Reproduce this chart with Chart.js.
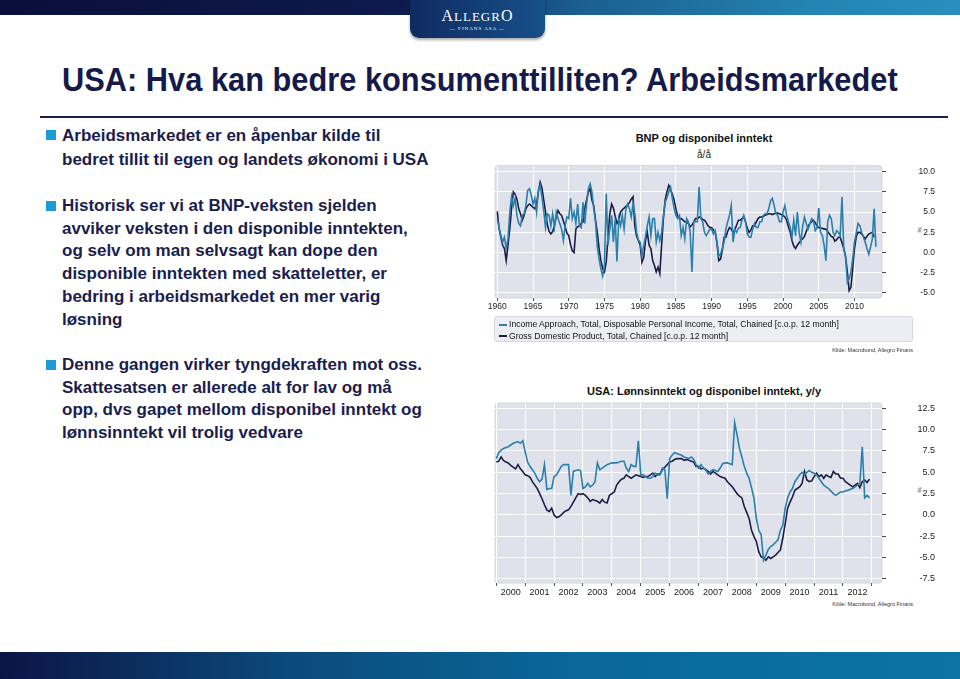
<!DOCTYPE html>
<html lang="no">
<head>
    <meta charset="UTF-8">
    <title>USA: Hva kan bedre konsumenttilliten? Arbeidsmarkedet</title>
    <script src="https://cdn.jsdelivr.net/npm/chart.js"></script>
    <style>
        html, body { margin: 0; padding: 0; }
        body { width: 960px; height: 679px; position: relative; overflow: hidden; background: #fff;
               font-family: Arial, "Liberation Sans", sans-serif; color: #1b1e4c; }
        .topbar { position: absolute; left: 0; top: 0; width: 960px; height: 15px;
                  background: linear-gradient(to right, #0a0f3a 0%, #0e1a4c 42%, #1a5e8f 60%, #2484b3 85%, #2a8fbd 100%); }
        .logo { position: absolute; left: 410px; top: 0; width: 135px; height: 38px; border-radius: 0 0 9px 9px;
                background: linear-gradient(to right, #0f2b60, #17508a); box-shadow: 0 2px 3px rgba(0,0,0,0.35);
                color: #fff; text-align: center; font-family: "Liberation Serif", "DejaVu Serif", serif; }
        .logo .brand { font-size: 16px; letter-spacing: 1px; padding-top: 7px; line-height: 17px; }
        .logo .brand span { font-size: 13px; }
        .logo .sub { font-size: 5px; letter-spacing: 1px; line-height: 8px; }
        .title { position: absolute; left: 62px; top: 60px; font-family: "Liberation Sans Narrow", "Arial Narrow", Arial, sans-serif;
                 font-weight: bold; font-size: 34px; color: #151a4a; white-space: nowrap; transform-origin: 0 0; }
        .rule { position: absolute; left: 40px; top: 116px; width: 908px; height: 2px; background: #1b1f4e; }
        .bullet { position: absolute; left: 62px; width: 420px; font-weight: bold; font-size: 17px;
                  line-height: 22.7px; white-space: nowrap; }
        .bullet::before { content: ""; position: absolute; left: -16px; top: 6px; width: 10px; height: 10px; background: #1e9ad8; }
        .ctitle { position: absolute; left: 490px; width: 428px; text-align: center; font-size: 11px; font-weight: bold; color: #111; }
        .csub { position: absolute; left: 490px; width: 428px; text-align: center; font-size: 10px; color: #222; }
        .legend { position: absolute; left: 494px; top: 316px; width: 419px; height: 26px; box-sizing: border-box;
                  background: #eceef3; border: 1px solid #d6d9e1; border-radius: 3px; padding: 2px 0 0 4px; font-size: 8.6px; color: #111; }
        .legend div { line-height: 11.5px; white-space: nowrap; }
        .legend i { display: inline-block; width: 8px; height: 1.6px; margin-right: 2px; vertical-align: middle; }
        .source { position: absolute; right: 47px; font-size: 5.5px; color: #333; }
        .unit { position: absolute; left: 917px; font-size: 6px; color: #333; transform: rotate(90deg); }
        .bottombar { position: absolute; left: 0; top: 652px; width: 960px; height: 27px;
                     background: linear-gradient(to right, #0b1545 0%, #0b4a7b 30%, #0a679a 60%, #0b74a5 100%); }
        canvas { position: absolute; }
    </style>
</head>
<body>
<div class="topbar"></div>
<div class="logo"><div class="brand">A<span>LLEGR</span>O</div><div class="sub">— FINANS ASA —</div></div>

<div class="title" id="title">USA: Hva kan bedre konsumenttilliten? Arbeidsmarkedet</div>
<div class="rule"></div>

<div class="bullet" style="top:124px; line-height:24px;">Arbeidsmarkedet er en åpenbar kilde til<br>bedret tillit til egen og landets økonomi i USA</div>
<div class="bullet" style="top:195px;">Historisk ser vi at BNP-veksten sjelden<br>avviker veksten i den disponible inntekten,<br>og selv om man selvsagt kan dope den<br>disponible inntekten med skatteletter, er<br>bedring i arbeidsmarkedet en mer varig<br>løsning</div>
<div class="bullet" style="top:354px;">Denne gangen virker tyngdekraften mot oss.<br>Skattesatsen er allerede alt for lav og må<br>opp, dvs gapet mellom disponibel inntekt og<br>lønnsinntekt vil trolig vedvare</div>

<div class="ctitle" style="top:132px;">BNP og disponibel inntekt</div>
<div class="csub" style="top:149px;">å/å</div>
<canvas id="bnpChart" width="455" height="159" style="left:480px; top:158px;"></canvas>
<div class="unit" style="top:227px;">%</div>
<div class="legend" id="bnpLegend"></div>
<div class="source" style="top:347px;">Kilde: Macrobond, Allegro Finans</div>

<div class="ctitle" style="top:385px;">USA: Lønnsinntekt og disponibel inntekt, y/y</div>
<canvas id="lonnChart" width="455" height="206" style="left:480px; top:395px;"></canvas>
<div class="unit" style="top:487px;">%</div>
<div class="source" style="top:601px;">Kilde: Macrobond, Allegro Finans</div>

<div class="bottombar"></div>

<script>
    // chart 1: quarterly growth, %, from 1960 Q1
    const bnpStartYear = 1960;
    const incomeApproach = [
        4.2, 3.1, 2.1, 1.3,   1.9, 0.5, 1.7, 5.0,   6.9, 5.8, 6.7, 4.6,   3.6, 3.3, 4.6, 4.8,   5.8, 7.7, 7.9, 7.1,
        6.0, 6.7, 5.0, 7.7,   8.3, 6.9, 5.2, 3.1,   4.8, 4.6, 3.3, 4.8,   3.1, 5.0, 4.2, 3.6,   2.9, 1.5, 3.3, 4.4,
        4.2, 6.7, 4.2, 5.0,   3.6, 6.0, 3.3, 3.1,   6.2, 3.6, 6.0, 7.9,   8.5, 7.5, 5.5, 3.8,   0.7, -0.8, -2.0, -2.9,
        -1.6, 7.3, 0.9, 2.9,  4.6, 1.3, 4.2, -1.1,  4.2, 3.3, 4.6, 2.9,   5.4, 6.0, 5.4, 4.4,   6.0, 4.8, 2.5, 1.5,
        1.3, -0.4, 0.9, 2.0,  3.3, 4.4, 2.1, 4.2,   4.2, 1.3, 2.5, 1.5,   2.5, 4.6, 6.2, 6.8,   7.5, 8.1, 6.7, 5.5,
        4.6, 4.2, 4.6, 2.1,   3.1, 1.7, 4.2, 3.8,   2.5, -2.4, 3.8, 3.8,  3.8, 8.1, 4.2, 3.8,   2.5, 2.1, 2.5, 2.9,
        2.9, 2.3, 2.7, 1.3,   -0.4, -0.2, 0.5, 1.3, 2.9, 3.8, 4.6, 5.8,   1.3, 2.9, 2.5, 3.0,   3.1, 4.0, 4.6, 3.8,
        2.3, 1.9, 1.9, 2.9,   3.6, 3.1, 3.1, 3.8,   3.8, 4.6, 4.8, 4.8,   5.4, 6.4, 6.7, 5.8,   4.8, 4.6, 3.8, 3.8,
        5.0, 5.8, 4.6, 3.8,   3.1, 1.9, 4.0, 2.1,   5.0, 2.5, 1.3, 3.3,   4.4, 3.6, 2.9, 3.5,   4.2, 4.0, 2.7, 3.0,
        5.5, 2.5, 2.1, 0.9,   -1.0, 3.8, 4.6, 4.2,  2.5, 2.1, 2.7, 2.5,   2.1, 6.9, 0.5, -0.5,  -3.7, -3.3, -2.4, -0.8,
        1.3, 2.5, 3.6, 3.3,   2.5, 1.9, 1.3, 0.5,   -0.2, 0.7, 1.7, 5.4,  0.7
    ];
    const gdp = [
        5.1, 3.0, 1.9, 0.9,   0.5, -1.0, 0.9, 3.0,  5.5, 7.5, 7.2, 6.6,   5.4, 4.8, 4.0, 4.6,   5.4, 5.8, 6.0, 5.8,
        5.6, 5.4, 6.0, 7.5,   8.7, 8.0, 6.5, 5.0,   3.5, 2.6, 2.3, 2.6,   3.3, 4.5, 5.2, 4.8,   4.6, 3.9, 3.2, 2.4,
        2.1, 1.0, 0.2, 0.0,   2.9, 3.2, 3.3, 3.6,   3.8, 5.5, 6.5, 7.5,   7.9, 6.5, 5.8, 4.0,   2.5, 0.5, -1.0, -2.0,
        -2.4, -1.2, 2.0, 4.8, 6.0, 5.5, 4.5, 3.6,   4.0, 5.0, 5.3, 5.5,   5.7, 5.9, 6.2, 6.6,   6.9, 3.3, 2.0, 1.5,
        0.9, -1.2, -0.6, 1.5, 2.5, 0.9, 0.5, -1.0,  -1.6, -2.4, -1.8, -2.6, 0.9, 4.2, 6.5, 7.5,  8.3, 7.8, 7.2, 6.5,
        5.4, 4.5, 4.2, 4.2,   4.0, 3.8, 3.8, 3.6,   3.2, 3.4, 3.8, 4.2,   4.2, 4.4, 4.3, 4.1,   4.0, 3.7, 3.3, 3.1,
        3.1, 2.8, 2.5, 1.2,   -1.0, -0.8, 0.3, 1.9, 1.9, 2.6, 3.1, 2.9,   2.5, 2.8, 3.4, 4.0,   4.0, 4.2, 4.4, 3.8,
        3.0, 2.5, 2.8, 3.3,   3.3, 3.8, 4.2, 4.4,   4.4, 4.5, 4.6, 4.7,   4.8, 4.8, 4.7, 4.8,   4.9, 4.9, 4.8, 4.7,
        4.6, 4.4, 4.0, 3.2,   2.5, 1.5, 0.8, 0.5,   0.9, 1.2, 1.5, 1.7,   2.0, 2.6, 3.2, 3.6,   3.8, 4.0, 3.7, 3.3,
        3.1, 3.0, 3.0, 2.9,   2.9, 2.6, 2.3, 2.0,   1.9, 1.4, 1.6, 1.9,   1.9, 1.2, 0.5, -0.5,  -2.4, -4.7, -4.3, -2.0,
        0.5, 2.0, 2.5, 2.5,   2.3, 2.0, 1.7, 2.0,   2.3, 2.4, 2.5, 1.9
    ];
    const bnpYearTicks = [1960, 1965, 1970, 1975, 1980, 1985, 1990, 1995, 2000, 2005, 2010];
    const bnpValueTicks = [-5, -2.5, 0, 2.5, 5, 7.5, 10];
    const bnpLabels = [
        'Income Approach, Total, Disposable Personal Income, Total, Chained [c.o.p. 12 month]',
        'Gross Domestic Product, Total, Chained [c.o.p. 12 month]'
    ];

    // chart 2: monthly growth y/y, %, from Jan 2000
    const lonnStartYear = 2000;
    const disponibel = [
        6.6, 7.3, 7.6, 7.8, 7.9, 8.0, 8.2, 8.4, 8.5, 8.6, 8.4, 8.7,
        7.4, 6.2, 5.7, 5.3, 4.9, 4.3, 3.9, 4.2, 5.9, 3.0, 3.1, 3.1,
        4.5, 4.7, 5.2, 5.7, 5.9, 5.9, 5.9, 2.3, 5.1, 5.2, 5.3, 5.2,
        3.1, 3.3, 3.7, 3.3, 3.5, 3.9, 6.1, 5.3, 5.5, 5.7, 5.9, 6.0,
        6.1, 6.1, 6.1, 6.2, 6.3, 6.3, 5.5, 5.1, 5.9, 5.7, 5.7, 8.7,
        4.7, 4.7, 4.5, 4.3, 4.3, 4.5, 4.9, 4.7, 4.7, 5.5, 5.3, 1.9,
        6.6, 7.0, 7.3, 7.2, 7.1, 7.0, 6.8, 6.7, 6.6, 6.8, 6.5, 5.9,
        5.5, 5.9, 5.5, 5.3, 4.8, 5.1, 5.3, 5.2, 5.1, 5.5, 6.0, 6.1,
        6.1, 6.0, 5.9, 10.8, 9.4, 7.8, 6.8, 5.7, 4.9, 4.3, 3.2, 2.0,
        -0.4, -1.8, -2.3, -5.3, -4.7, -4.0, -3.7, -3.5, -3.2, -2.9, -1.8, -1.2,
        0.8, 2.0, 2.7, 3.1, 3.9, 4.3, 4.7, 5.0, 4.7, 5.0, 5.2, 5.0,
        4.9, 4.7, 4.3, 3.9, 3.5, 3.3, 3.1, 2.8, 2.5, 2.3, 2.5, 2.7,
        2.7, 2.8, 2.9, 3.0, 3.1, 3.3, 3.5, 3.7, 8.0, 2.0, 2.3, 2.0
    ];
    const lonnsinntekt = [
        6.2, 6.3, 6.8, 6.4, 6.2, 6.1, 5.8, 5.6, 5.4, 5.9, 5.4, 5.1,
        4.7, 4.6, 4.4, 3.9, 3.5, 3.1, 2.5, 1.9, 1.2, 0.6, 0.4, 0.8,
        0.0, -0.3, -0.2, 0.0, 0.3, 0.5, 0.6, 1.0, 1.5, 2.0, 2.5, 2.4,
        2.5, 2.3, 2.0, 1.6, 1.8, 1.7, 1.6, 1.4, 1.8, 1.5, 1.4, 2.3,
        2.5, 2.7, 3.5, 3.9, 4.2, 4.3, 4.7, 4.5, 4.3, 4.5, 4.7, 4.6,
        4.5, 4.4, 4.5, 4.5, 4.7, 4.9, 4.5, 4.8, 4.8, 5.3, 5.6, 5.9,
        6.2, 6.3, 6.5, 6.6, 6.6, 6.6, 6.4, 6.5, 6.4, 6.3, 6.2, 5.7,
        5.7, 5.4, 5.5, 5.3, 5.1, 4.8, 5.1, 4.9, 4.7, 4.5, 4.4, 4.3,
        3.9, 3.6, 3.3, 2.9, 2.5, 2.2, 2.0, 1.0, 0.3, -0.4, -1.8, -2.5,
        -3.1, -4.3, -4.9, -5.0, -5.3, -4.9, -5.1, -4.9, -4.7, -4.4, -4.1, -2.7,
        -1.0, 0.8, 1.5, 2.1, 2.9, 3.1, 3.3, 3.7, 5.1, 4.1, 3.9, 4.0,
        4.5, 4.9, 4.5, 4.7, 4.3, 4.7, 4.5, 4.4, 5.1, 4.8, 4.8, 4.3,
        4.3, 3.9, 3.7, 3.5, 3.3, 3.5, 3.7, 3.2, 3.9, 4.1, 3.8, 4.2
    ];
    const lonnYearTicks = [2000, 2001, 2002, 2003, 2004, 2005, 2006, 2007, 2008, 2009, 2010, 2011, 2012, 2013];
    const lonnValueTicks = [-7.5, -5, -2.5, 0, 2.5, 5, 7.5, 10, 12.5];

    const LIGHT = '#2a7fab';
    const DARK = '#1c1c46';

    // fit slide title to its width in the original
    const titleEl = document.getElementById('title');
    titleEl.style.transform = 'scaleX(' + (836 / titleEl.offsetWidth) + ')';

    // grey plot area behind the lines
    const plotBg = {
        id: 'plotBg',
        beforeDraw(chart) {
            const a = chart.chartArea;
            const ctx = chart.ctx;
            ctx.save();
            ctx.beginPath();
            ctx.roundRect(a.left, a.top, a.width, a.height, 3);
            ctx.fillStyle = '#e0e2eb';
            ctx.fill();
            ctx.strokeStyle = '#d2d5df';
            ctx.lineWidth = 1;
            ctx.stroke();
            ctx.restore();
        }
    };

    function toPoints(values, start, perYear) {
        return values.map((v, i) => ({ x: start + i / perYear, y: v }));
    }

    function makeChart(id, datasets, cfg) {
        return new Chart(document.getElementById(id), {
            type: 'line',
            data: { datasets: datasets },
            options: {
                responsive: false,
                animation: false,
                devicePixelRatio: 1,
                layout: { padding: { left: 15, top: cfg.padTop, right: 0, bottom: 0 } },
                plugins: { legend: { display: false }, tooltip: { enabled: false } },
                elements: { point: { radius: 0 }, line: { borderWidth: 1.6, tension: 0 } },
                scales: {
                    x: {
                        type: 'linear', min: cfg.xMin, max: cfg.xMax,
                        afterBuildTicks: s => { s.ticks = cfg.xTicks.map(v => ({ value: v })); },
                        afterFit: s => { s.height = cfg.xHeight; },
                        grid: { color: '#ffffff', lineWidth: 1, tickLength: 3, tickColor: '#555' },
                        border: { display: false },
                        ticks: {
                            autoSkip: false, maxRotation: 0, padding: 1, color: '#222',
                            font: { size: cfg.fontSize }, labelOffset: cfg.labelOffset,
                            callback: v => (v < cfg.lastLabel ? String(v) : '')
                        }
                    },
                    y: {
                        position: 'right', min: cfg.yMin, max: cfg.yMax,
                        afterBuildTicks: s => { s.ticks = cfg.yTicks.map(v => ({ value: v })); },
                        afterFit: s => { s.width = 53; },
                        grid: { color: '#ffffff', lineWidth: 1, tickLength: 4, tickColor: '#444' },
                        border: { display: false },
                        ticks: {
                            crossAlign: 'far', padding: -1, color: '#222', font: { size: cfg.fontSize },
                            callback: v => v.toFixed(1)
                        }
                    }
                }
            },
            plugins: [plotBg]
        });
    }

    const bnpChart = makeChart('bnpChart', [
        { label: bnpLabels[0], data: toPoints(incomeApproach, bnpStartYear, 4), borderColor: LIGHT },
        { label: bnpLabels[1], data: toPoints(gdp, bnpStartYear, 4), borderColor: DARK }
    ], {
        padTop: 7.7, xMin: 1959.68, xMax: 2013.85, xTicks: bnpYearTicks, xHeight: 19, lastLabel: 9999,
        labelOffset: 0, yMin: -5.62, yMax: 10.74, yTicks: bnpValueTicks, fontSize: 8.5
    });

    makeChart('lonnChart', [
        { label: 'Disponibel inntekt', data: toPoints(disponibel, lonnStartYear, 12), borderColor: LIGHT },
        { label: 'Lønnsinntekt', data: toPoints(lonnsinntekt, lonnStartYear, 12), borderColor: DARK }
    ], {
        padTop: 8, xMin: 1999.955, xMax: 2013.35, xTicks: lonnYearTicks, xHeight: 18, lastLabel: 2013,
        labelOffset: 14.4, yMin: -7.97, yMax: 13.12, yTicks: lonnValueTicks, fontSize: 9
    });

    // legend box for chart 1, built from the datasets
    const legendEl = document.getElementById('bnpLegend');
    bnpChart.data.datasets.forEach(ds => {
        legendEl.insertAdjacentHTML('beforeend',
            `<div><i style="background:${ds.borderColor}"></i>${ds.label}</div>`);
    });
</script>
</body>
</html>
